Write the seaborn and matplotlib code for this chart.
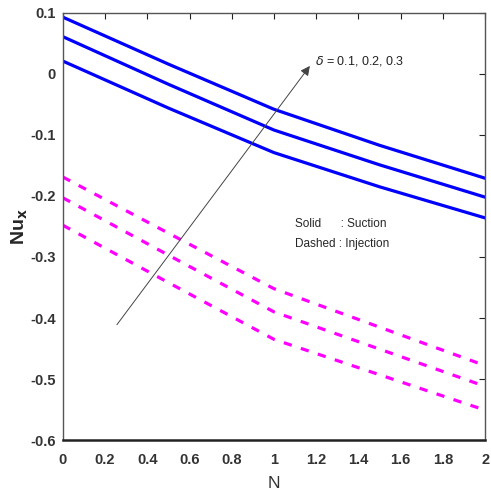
import numpy as np
import pandas as pd
import matplotlib
matplotlib.use("Agg")
import matplotlib.pyplot as plt
import seaborn as sns

# values
N = [0, 0.5, 1, 1.5, 2]
deltas = ["0.1", "0.2", "0.3"]

# solid lines (suction), top to bottom
suction = {
    "0.3": [0.093, 0.016, -0.058, -0.117, -0.171],
    "0.2": [0.061, -0.017, -0.092, -0.149, -0.202],
    "0.1": [0.021, -0.056, -0.129, -0.185, -0.236],
}
# dashed lines (injection), top to bottom
injection = {
    "0.3": [-0.169, -0.261, -0.352, -0.415, -0.478],
    "0.2": [-0.203, -0.297, -0.390, -0.451, -0.512],
    "0.1": [-0.248, -0.342, -0.435, -0.493, -0.551],
}

x_ticks = [0, 0.2, 0.4, 0.6, 0.8, 1, 1.2, 1.4, 1.6, 1.8, 2]
x_tick_labels = ["0", "0.2", "0.4", "0.6", "0.8", "1", "1.2", "1.4", "1.6", "1.8", "2"]
y_ticks = [-0.6, -0.5, -0.4, -0.3, -0.2, -0.1, 0, 0.1]
y_tick_labels = ["-0.6", "-0.5", "-0.4", "-0.3", "-0.2", "-0.1", "0", "0.1"]


def build_frame():
    rows = []
    for case, table in [("Suction", suction), ("Injection", injection)]:
        for d in deltas:
            for n, v in zip(N, table[d]):
                rows.append({"N": n, "Nu": v, "delta": d, "case": case})
    return pd.DataFrame(rows)


df = build_frame()

sns.set_style("white")
plt.rcParams["font.family"] = ["Liberation Sans", "DejaVu Sans"]

fig = plt.figure(figsize=(4.91, 4.95), dpi=100)
ax = fig.add_axes([0.128, 0.111, 0.86, 0.863])

suc = df[df["case"] == "Suction"]
inj = df[df["case"] == "Injection"]
sns.lineplot(data=suc, x="N", y="Nu", units="delta", estimator=None,
             color="#0000FF", lw=2.3, ax=ax, legend=False)
sns.lineplot(data=inj, x="N", y="Nu", units="delta", estimator=None,
             color="#FF00FF", lw=2.3, ax=ax, legend=False)
for line in ax.lines[3:]:
    line.set_dashes([2.6, 3.0])

ax.set_xlim(0, 2)
ax.set_ylim(-0.6, 0.1)
ax.set_xticks(x_ticks)
ax.set_xticklabels(x_tick_labels)
ax.set_yticks(y_ticks)
ax.set_yticklabels(y_tick_labels)
ax.tick_params(direction="in", length=4, width=0.8, top=True, right=True,
               labelsize=10.5, colors="#222222")
ax.tick_params(axis="x", pad=9)
ax.tick_params(axis="y", pad=5)
for lab in ax.get_xticklabels() + ax.get_yticklabels():
    lab.set_fontweight("bold")
    lab.set_color("#333333")

for side in ["left", "top", "right"]:
    ax.spines[side].set_color("#555555")
    ax.spines[side].set_linewidth(1.0)
ax.spines["bottom"].set_color("#222222")
ax.spines["bottom"].set_linewidth(1.8)

ax.set_xlabel("N", fontsize=12.5, color="#333333")
ax.xaxis.set_label_coords(0.5, -0.085)
ax.set_ylabel("Nu$_\\mathbf{x}$", fontsize=14, fontweight="bold")
ax.yaxis.set_label_coords(-0.078, 0.5)

# arrow showing increasing delta
ax.annotate("", xy=(1.17, 0.013), xytext=(0.256, -0.411),
            arrowprops=dict(arrowstyle="-|>", color="#444444", lw=0.7,
                            mutation_scale=14, shrinkA=0, shrinkB=0))
ax.text(1.195, 0.021, "$\\delta$ = 0.1, 0.2, 0.3", fontsize=9, va="center",
        ha="left", color="#222222")

ax.text(1.10, -0.246, "Solid      : Suction", fontsize=8.5, va="center", ha="left")
ax.text(1.10, -0.279, "Dashed : Injection", fontsize=8.5, va="center", ha="left")

fig.savefig("out.png", dpi=100)
